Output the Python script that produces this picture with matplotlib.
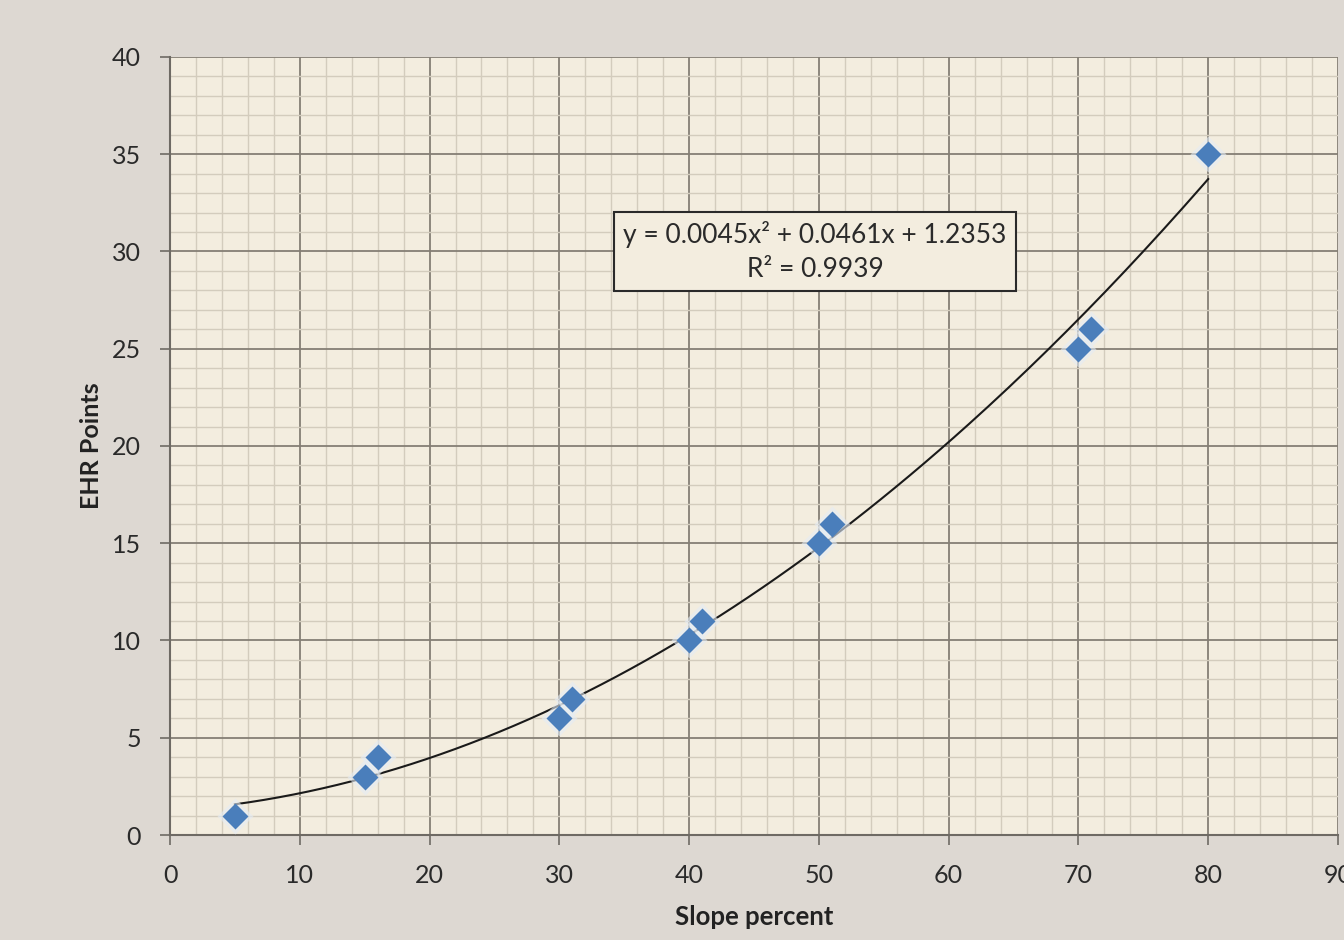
import numpy as np
import matplotlib.pyplot as plt
from matplotlib.ticker import MultipleLocator

# data
slope = [5, 15, 16, 30, 31, 40, 41, 50, 51, 70, 71, 80]
ehr = [1, 3, 4, 6, 7, 10, 11, 15, 16, 25, 26, 35]

# Excel trendline coefficients (shown in the label)
coef = [0.0045, 0.0461, 1.2353]
r2 = 0.9939

plt.rcParams['font.family'] = ['Lato', 'DejaVu Sans']
plt.rcParams['font.size'] = 18

fig = plt.figure(figsize=(13.44, 9.4), dpi=100, facecolor='#ddd8d2')
ax = fig.add_axes([0.1265, 0.1117, 0.869, 0.8277])
ax.set_facecolor('#f3eddf')

# trendline
xs = np.linspace(min(slope), max(slope), 200)
ax.plot(xs, np.polyval(coef, xs), color='#1a1a1a', lw=1.5, zorder=3)

# points with a soft halo
ax.plot(slope, ehr, 'D', ms=18, color='#e4ecf5', alpha=0.6, mec='none', zorder=4)
ax.plot(slope, ehr, 'D', ms=13, color='#4a7ebb', mec='none', zorder=5)

ax.set_xlim(0, 90)
ax.set_ylim(0, 40)
ax.xaxis.set_major_locator(MultipleLocator(10))
ax.xaxis.set_minor_locator(MultipleLocator(2))
ax.yaxis.set_major_locator(MultipleLocator(5))
ax.yaxis.set_minor_locator(MultipleLocator(1))
ax.grid(which='major', color='#857f75', lw=1.3, zorder=1)
ax.grid(which='minor', color='#d3ccbd', lw=1.0, zorder=0)
ax.set_axisbelow(True)

for s in ['top', 'right']:
    ax.spines[s].set_visible(False)
for s in ['left', 'bottom']:
    ax.spines[s].set_color('#6e6a64')
    ax.spines[s].set_linewidth(1.5)

ax.tick_params(which='major', length=7, width=1.2, color='#6e6a64',
               labelcolor='#2a2a2a', labelsize=18, pad=14)
ax.tick_params(which='minor', length=0)

ax.set_xlabel('Slope percent', fontsize=18.5, fontweight='bold', color='#222222', labelpad=13)
ax.set_ylabel('EHR Points', fontsize=18, fontweight='bold', color='#222222', labelpad=6)

eq = 'y = 0.0045x\u00b2 + 0.0461x + 1.2353\nR\u00b2 = ' + f'{r2:.4f}'
ax.text(49.7, 30.0, eq, ha='center', va='center', fontsize=19, color='#2a2a2a',
        linespacing=1.45, zorder=6,
        bbox=dict(boxstyle='square,pad=0.35', fc='#f3eddf', ec='#2a2a2a', lw=1.5))

fig.savefig('out.png', dpi=100, facecolor=fig.get_facecolor())
